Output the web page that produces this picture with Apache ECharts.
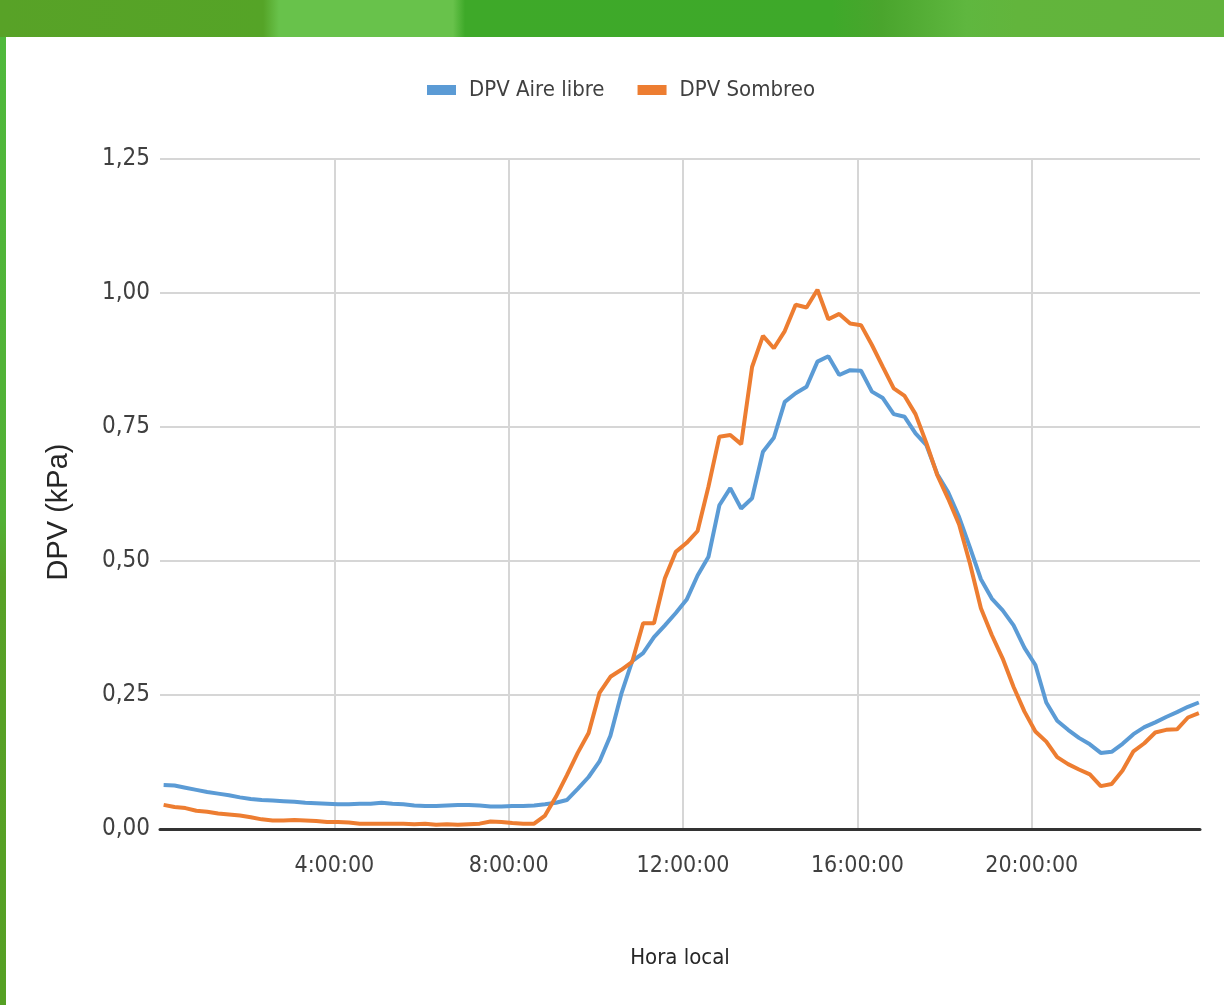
<!DOCTYPE html>
<html>
<head>
<meta charset="utf-8">
<script src="https://cdn.jsdelivr.net/npm/echarts@6/dist/echarts.min.js"></script>
<style>
html,body{margin:0;padding:0;background:#fff;}
#chart{width:1224px;height:1005px;}
</style>
</head>
<body>
<div id="chart"></div>
<script>
// Sample times (hours of local time), one sample every 15 minutes
const sampleHours = Array.from({length: 96}, (_, i) => 5 / 60 + i * 0.25);
const xTickHours = [4, 8, 12, 16, 20];
const yTicks = [0, 0.25, 0.5, 0.75, 1.0, 1.25];
const seriesNames = ['DPV Aire libre', 'DPV Sombreo'];

const dpvAireLibre = [
  0.082, 0.081, 0.077, 0.073, 0.069, 0.066, 0.063, 0.059, 0.056, 0.054,
  0.053, 0.052, 0.051, 0.049, 0.048, 0.047, 0.046, 0.046, 0.047, 0.047,
  0.049, 0.047, 0.046, 0.044, 0.043, 0.043, 0.044, 0.045, 0.045, 0.044,
  0.042, 0.042, 0.043, 0.043, 0.044, 0.046, 0.049, 0.054, 0.075, 0.097,
  0.126, 0.174, 0.252, 0.313, 0.328, 0.358, 0.380, 0.403, 0.428, 0.473,
  0.508, 0.604, 0.636, 0.598, 0.617, 0.704, 0.730, 0.797, 0.813, 0.825,
  0.872, 0.882, 0.847, 0.856, 0.855, 0.816, 0.804, 0.774, 0.769, 0.738,
  0.716, 0.662, 0.628, 0.582, 0.525, 0.466, 0.430, 0.408, 0.380, 0.338,
  0.306, 0.236, 0.202, 0.185, 0.170, 0.158, 0.142, 0.144, 0.159, 0.177,
  0.190, 0.199, 0.209, 0.218, 0.228, 0.236
];

const dpvSombreo = [
  0.045, 0.041, 0.039, 0.034, 0.032, 0.029, 0.027, 0.025, 0.022, 0.018,
  0.016, 0.016, 0.017, 0.016, 0.015, 0.013, 0.013, 0.012, 0.010, 0.010,
  0.010, 0.010, 0.010, 0.009, 0.010, 0.008, 0.009, 0.008, 0.009, 0.010,
  0.014, 0.013, 0.011, 0.010, 0.010, 0.025, 0.060, 0.100, 0.142, 0.179,
  0.254, 0.284, 0.297, 0.312, 0.384, 0.384, 0.468, 0.517, 0.534, 0.556,
  0.639, 0.732, 0.735, 0.718, 0.862, 0.920, 0.897, 0.929, 0.978, 0.973,
  1.006, 0.951, 0.961, 0.943, 0.940, 0.903, 0.862, 0.822, 0.808, 0.774,
  0.720, 0.660, 0.616, 0.568, 0.495, 0.412, 0.362, 0.318, 0.265, 0.219,
  0.182, 0.163, 0.134, 0.121, 0.111, 0.102, 0.080, 0.084, 0.109, 0.145,
  0.160, 0.180, 0.185, 0.186, 0.208, 0.216
];

const narrow = '"Liberation Sans Narrow", "DejaVu Sans Condensed", "Arial Narrow", sans-serif';

const chart = echarts.init(document.getElementById('chart'), null, {renderer: 'canvas'});

const option = {
  backgroundColor: '#ffffff',
  animation: false,
  graphic: [
    {
      type: 'rect', left: 0, top: 0, z: -10,
      shape: {width: 1224, height: 37},
      style: {
        fill: {
          type: 'linear', x: 0, y: 0, x2: 1, y2: 0,
          colorStops: [
            {offset: 0.00, color: '#58a227'},
            {offset: 0.215, color: '#55a427'},
            {offset: 0.228, color: '#68c24b'},
            {offset: 0.370, color: '#68c24b'},
            {offset: 0.380, color: '#3ea929'},
            {offset: 0.680, color: '#3ea92a'},
            {offset: 0.720, color: '#4aa52d'},
            {offset: 0.790, color: '#5fb73f'},
            {offset: 0.830, color: '#62b53c'},
            {offset: 1.00, color: '#62b33c'}
          ]
        }
      }
    },
    {
      type: 'rect', left: 0, top: 37, z: -10,
      shape: {width: 6, height: 968},
      style: {
        fill: {
          type: 'linear', x: 0, y: 0, x2: 0, y2: 1,
          colorStops: [
            {offset: 0, color: '#4fb93c'},
            {offset: 0.5, color: '#52b035'},
            {offset: 0.56, color: '#58a127'},
            {offset: 1, color: '#55a024'}
          ]
        }
      }
    }
  ],
  color: ['#5b9bd5', '#ed7d31'],
  legend: {
    data: seriesNames,
    left: 422,
    top: 74,
    icon: 'rect',
    itemWidth: 29,
    itemHeight: 10,
    itemGap: 33,
    textStyle: {
      fontFamily: narrow,
      fontSize: 22,
      color: '#404040',
      padding: [0, 0, 0, 8]
    }
  },
  grid: {
    left: 160,
    right: 24,
    top: 159,
    bottom: 176,
    containLabel: false
  },
  xAxis: {
    type: 'value',
    min: 0,
    max: 23.86,
    interval: 4,
    name: 'Hora local',
    nameLocation: 'middle',
    nameGap: 118,
    nameTextStyle: {fontFamily: narrow, fontSize: 22, color: '#262626'},
    axisLine: {show: true, onZero: false, lineStyle: {color: '#333333', width: 3}},
    axisTick: {show: false},
    axisLabel: {
      fontFamily: narrow,
      fontSize: 23,
      color: '#404040',
      margin: 26,
      showMinLabel: false,
      showMaxLabel: false,
      formatter: function (v) {
        return xTickHours.indexOf(v) >= 0 ? v + ':00:00' : '';
      }
    },
    splitLine: {
      show: true,
      showMinLine: false,
      showMaxLine: false,
      lineStyle: {color: '#d6d6d6', width: 2}
    }
  },
  yAxis: {
    type: 'value',
    min: 0,
    max: 1.25,
    interval: 0.25,
    name: 'DPV (kPa)',
    nameLocation: 'middle',
    nameGap: 87,
    nameTextStyle: {
      fontFamily: '"Liberation Sans", Arial, sans-serif',
      fontSize: 29,
      color: '#262626',
      padding: [0, 36, 0, 0]
    },
    axisLine: {show: false},
    axisTick: {show: false},
    axisLabel: {
      fontFamily: narrow,
      fontSize: 24,
      color: '#404040',
      margin: 10,
      formatter: function (v) { return v.toFixed(2).replace('.', ','); }
    },
    splitLine: {show: true, lineStyle: {color: '#d6d6d6', width: 2}}
  },
  series: [
    {
      name: seriesNames[0],
      type: 'line',
      data: sampleHours.map((h, i) => [h, dpvAireLibre[i]]),
      showSymbol: false,
      symbol: 'none',
      lineStyle: {width: 4, color: '#5b9bd5'},
      z: 3
    },
    {
      name: seriesNames[1],
      type: 'line',
      data: sampleHours.map((h, i) => [h, dpvSombreo[i]]),
      showSymbol: false,
      symbol: 'none',
      lineStyle: {width: 4, color: '#ed7d31'},
      z: 4
    }
  ]
};

chart.setOption(option);
</script>
</body>
</html>
